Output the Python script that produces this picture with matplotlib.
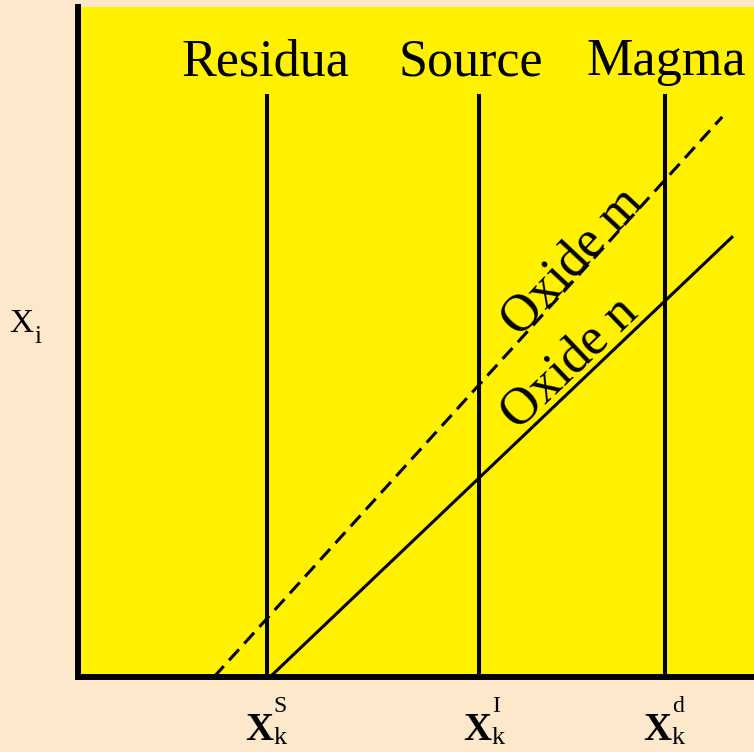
import matplotlib.pyplot as plt
from matplotlib.transforms import offset_copy

plt.rcParams['font.family'] = ['Liberation Serif', 'DejaVu Serif']

peach = '#FEE8CB'
yellow = '#FFF100'

# three vertical markers: residua, source, magma
marker_x = [2.80, 5.93, 8.68]
marker_top = 8.70
marker_names = ['Residua', 'Source', 'Magma']
name_x = [2.77, 5.81, 8.70]
tick_sup = ['S', 'I', 'd']

# the two oxide lines
oxide_n_x = [2.84, 9.69]
oxide_n_y = [0.0, 6.58]
oxide_m_x = [2.01, 9.53]
oxide_m_y = [0.0, 8.36]

fig = plt.figure(figsize=(7.54, 7.52), dpi=100, facecolor=peach)
ax = fig.add_axes([78/754, 75/752, 676/754, 670/752])
ax.set_facecolor(yellow)
ax.set_xlim(0, 10)
ax.set_ylim(0, 10)
ax.set_xticks([])
ax.set_yticks([])
for s in ['top', 'right']:
    ax.spines[s].set_visible(False)
for s in ['left', 'bottom']:
    ax.spines[s].set_linewidth(4.3)
    ax.spines[s].set_capstyle('projecting')

ax.vlines(marker_x, 0, marker_top, color='k', lw=2.9)
ax.plot(oxide_n_x, oxide_n_y, color='k', lw=2.2, solid_capstyle='butt')
ax.plot(oxide_m_x, oxide_m_y, color='k', lw=2.2, ls=(0, (4.8, 2.6)))

for x, name in zip(name_x, marker_names):
    ax.text(x, 8.985, name, ha='center', va='baseline', fontsize=37.5)

ax.text(7.31, 6.19, 'Oxide m', rotation=47, rotation_mode='anchor',
        ha='center', va='center', fontsize=38)
ax.text(7.28, 4.69, 'Oxide n', rotation=43.6, rotation_mode='anchor',
        ha='center', va='center', fontsize=38)

# x-axis labels: bold X with stacked super/subscripts
label_dx = [6, 13, 7]
base = ax.get_xaxis_transform()
for x, sup, dx in zip(marker_x, tick_sup, label_dx):
    ax.text(x, 0, 'X', fontsize=28, fontweight='bold', ha='right', va='baseline',
            transform=offset_copy(base, fig=fig, x=dx, y=-63, units='dots'), clip_on=False)
    ax.text(x, 0, sup, fontsize=17, ha='left', va='baseline',
            transform=offset_copy(base, fig=fig, x=dx, y=-35, units='dots'), clip_on=False)
    ax.text(x, 0, 'k', fontsize=19, ha='left', va='baseline',
            transform=offset_copy(base, fig=fig, x=dx, y=-67, units='dots'), clip_on=False)

# y-axis label X_i
fig.text(9/754, 1 - 332/752, 'X', fontsize=24, va='baseline')
fig.text(34/754, 1 - 343/752, 'i', fontsize=18, va='baseline')

fig.savefig('out.png', dpi=100, facecolor=peach)
